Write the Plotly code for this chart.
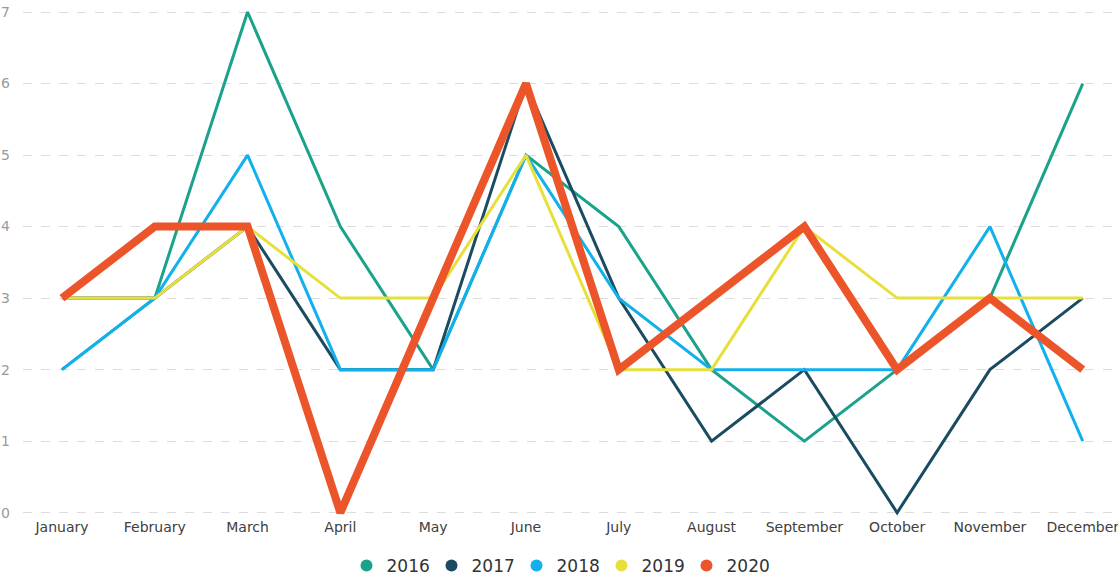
import plotly.graph_objects as go

months = ["January", "February", "March", "April", "May", "June",
          "July", "August", "September", "October", "November", "December"]
years = ["2016", "2017", "2018", "2019", "2020"]
v2016 = [2, 3, 7, 4, 2, 5, 4, 2, 1, 2, 3, 6]
v2017 = [3, 3, 4, 2, 2, 6, 3, 1, 2, 0, 2, 3]
v2018 = [2, 3, 5, 2, 2, 5, 3, 2, 2, 2, 4, 1]
v2019 = [3, 3, 4, 3, 3, 5, 2, 2, 4, 3, 3, 3]
v2020 = [3, 4, 4, 0, 3, 6, 2, 3, 4, 2, 3, 2]
series = [v2016, v2017, v2018, v2019, v2020]
colors = ["#1aa38a", "#1b4b61", "#12b0ec", "#e8e03a", "#ec552a"]
widths = [3, 3, 3, 3, 8]

fig = go.Figure()
for name, vals, c, w in zip(years, series, colors, widths):
    fig.add_trace(go.Scatter(x=months, y=vals, mode="lines", name=name,
                             line=dict(color=c, width=w), showlegend=False,
                             hoverinfo="x+y+name"))
for name, c in zip(years, colors):
    fig.add_trace(go.Scatter(x=[None], y=[None], mode="markers", name=name,
                             marker=dict(color=c, size=13, symbol="circle"),
                             showlegend=True))

fig.update_layout(
    width=1118, height=578,
    margin=dict(l=23, r=0, t=8, b=61, autoexpand=False),
    paper_bgcolor="white", plot_bgcolor="white",
    font=dict(family="DejaVu Sans", size=13, color="#444"),
    showlegend=True,
    legend=dict(orientation="h", x=0.5, xanchor="center", xref="container",
                y=0.021, yanchor="middle", yref="container",
                font=dict(size=17, color="#333"), itemsizing="constant",
                itemwidth=30, tracegroupgap=0,
                entrywidth=40, entrywidthmode="pixels"),
    xaxis=dict(range=[-0.42, 11.38], showgrid=False, zeroline=False, showline=False,
               tickfont=dict(size=14, color="#404040"), ticks="", automargin=False),
    yaxis=dict(range=[-0.06, 7.056], dtick=1, showgrid=True, gridcolor="#dcdcdc",
               griddash="dash", gridwidth=1, zeroline=False, showline=False,
               tickfont=dict(size=14, color="#9a9a9a"), ticks="", ticklabelstandoff=12,
               ticklabeloverflow="allow", automargin=False),
)
fig.write_html("out.html", config={"displayModeBar": False},
               post_script="document.body.style.margin='0px';document.body.style.padding='0px';")
